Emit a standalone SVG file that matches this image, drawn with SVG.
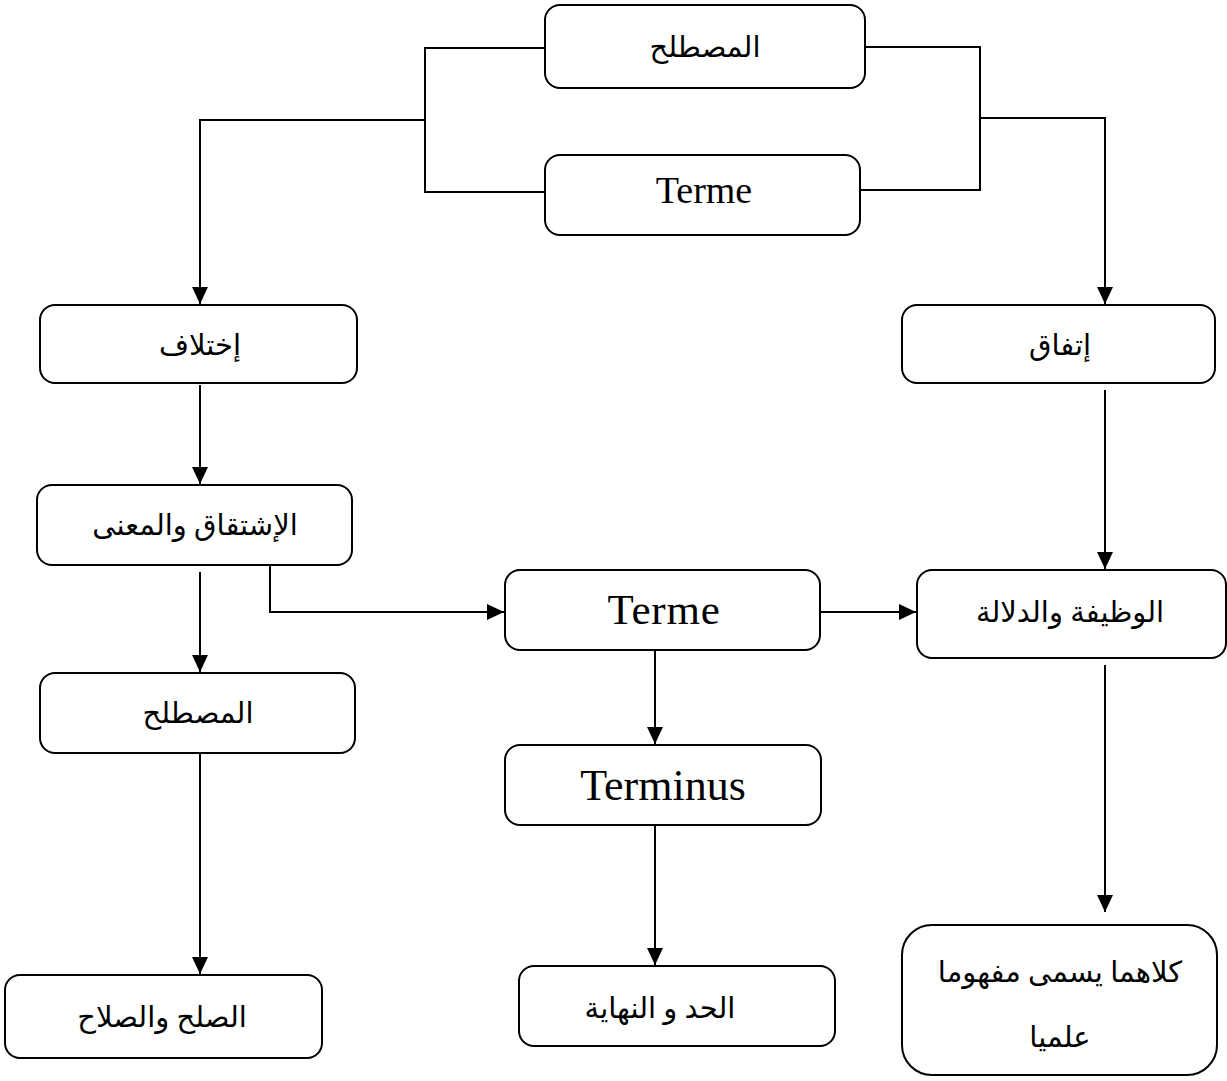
<svg xmlns="http://www.w3.org/2000/svg" width="1227" height="1081" viewBox="0 0 1227 1081">
<style>
.box{fill:#fff;stroke:#000;stroke-width:2}
.ln{fill:none;stroke:#000;stroke-width:2}
.ar{font-family:"Liberation Serif","DejaVu Sans",serif;font-size:29px;fill:#000;text-anchor:middle}
.la{font-family:"Liberation Serif",serif;fill:#000;text-anchor:middle}
</style>
<defs>
<marker id="arr" viewBox="0 0 17 16" refX="17" refY="8" markerWidth="17" markerHeight="16" markerUnits="userSpaceOnUse" orient="auto">
<path d="M0,0 L17,8 L0,16 Z" fill="#000"/>
</marker>
</defs>
<g id="connectors">
<path class="ln" d="M545,48 H425 V192 H545"/>
<path class="ln" d="M425,120 H200 V304" marker-end="url(#arr)"/>
<path class="ln" d="M865,47 H980 V190 H860"/>
<path class="ln" d="M980,118 H1105 V304" marker-end="url(#arr)"/>
<path class="ln" d="M200,385 V484" marker-end="url(#arr)"/>
<path class="ln" d="M1105,390 V569" marker-end="url(#arr)"/>
<path class="ln" d="M200,572 V672" marker-end="url(#arr)"/>
<path class="ln" d="M270,565 V612 H504" marker-end="url(#arr)"/>
<path class="ln" d="M821,612 H916" marker-end="url(#arr)"/>
<path class="ln" d="M655,650 V744" marker-end="url(#arr)"/>
<path class="ln" d="M655,825 V965" marker-end="url(#arr)"/>
<path class="ln" d="M200,752 V974" marker-end="url(#arr)"/>
<path class="ln" d="M1105,665 V912" marker-end="url(#arr)"/>
</g>
<g id="n1"><rect class="box" x="545" y="5" width="320" height="83" rx="15"/><text class="ar" x="705" y="57">المصطلح</text></g>
<g id="n2"><rect class="box" x="545" y="155" width="315" height="80" rx="15"/><text class="la" x="704" y="203" font-size="38">Terme</text></g>
<g id="n3"><rect class="box" x="40" y="305" width="317" height="78" rx="15"/><text class="ar" x="200" y="355">إختلاف</text></g>
<g id="n4"><rect class="box" x="902" y="305" width="313" height="78" rx="15"/><text class="ar" x="1060" y="355">إتفاق</text></g>
<g id="n5"><rect class="box" x="37" y="485" width="315" height="80" rx="15"/><text class="ar" x="195" y="535">الإشتقاق والمعنى</text></g>
<g id="n6"><rect class="box" x="40" y="673" width="315" height="80" rx="15"/><text class="ar" x="198" y="723">المصطلح</text></g>
<g id="n7"><rect class="box" x="505" y="570" width="315" height="80" rx="15"/><text class="la" x="664" y="624" font-size="43" letter-spacing="0.8">Terme</text></g>
<g id="n8"><rect class="box" x="917" y="570" width="309" height="88" rx="15"/><text class="ar" x="1070" y="622">الوظيفة والدلالة</text></g>
<g id="n9"><rect class="box" x="505" y="745" width="316" height="80" rx="15"/><text class="la" x="663" y="800" font-size="44">Terminus</text></g>
<g id="n10"><rect class="box" x="5" y="975" width="317" height="83" rx="15"/><text class="ar" x="162" y="1027">الصلح والصلاح</text></g>
<g id="n11"><rect class="box" x="519" y="966" width="316" height="80" rx="15"/><text class="ar" x="660" y="1018">الحد و النهاية</text></g>
<g id="n12"><rect class="box" x="902" y="925" width="315" height="150" rx="30"/><text class="ar" x="1060" y="982">كلاهما يسمى مفهوما</text><text class="ar" x="1060" y="1047">علميا</text></g>
</svg>
